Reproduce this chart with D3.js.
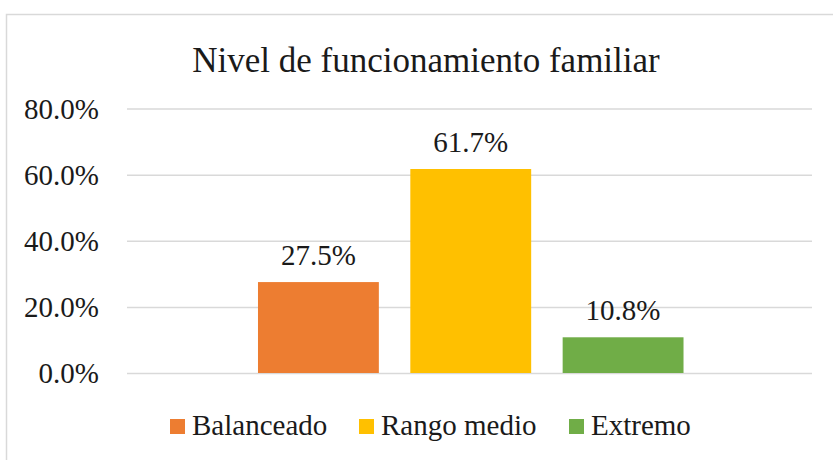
<!DOCTYPE html>
<html>
<head>
<meta charset="utf-8">
<script src="https://cdn.jsdelivr.net/npm/d3@7"></script>
<style>
  body { margin: 0; background: #fff; }
  text { font-family: 'Liberation Serif', 'Times New Roman', serif; fill: #1a1a1a; }
</style>
</head>
<body>
<div id="chart"></div>
<script>
const width = 833
const height = 460

const title = 'Nivel de funcionamiento familiar'
const series = ['Balanceado', 'Rango medio', 'Extremo']
const values = [0.275, 0.617, 0.108]
const colors = ['#ED7D31', '#FFC000', '#70AD47']
const yTicks = [0, 0.2, 0.4, 0.6, 0.8]

const plot = { left: 127, right: 812, top: 108.5, bottom: 373 }

const svg = d3
  .select('#chart')
  .append('svg')
  .attr('width', width)
  .attr('height', height)

// chart frame (runs off the right and bottom edges)
svg
  .append('rect')
  .attr('x', 6.5)
  .attr('y', 14.5)
  .attr('width', 900)
  .attr('height', 500)
  .attr('fill', 'none')
  .attr('stroke', '#D9D9D9')
  .attr('stroke-width', 1.5)

svg
  .append('text')
  .attr('x', 426)
  .attr('y', 72)
  .attr('text-anchor', 'middle')
  .attr('font-size', 35)
  .text(title)

const yScale = d3.scaleLinear().domain([0, 0.8]).range([plot.bottom, plot.top])

const xScale = d3
  .scaleBand()
  .domain(series)
  .range([plot.left + 1.5, plot.right + 1])
  .paddingInner(0.2066)
  .paddingOuter(0.85)

const yAxis = d3
  .axisLeft(yScale)
  .tickValues(yTicks)
  .tickFormat(d3.format('.1%'))
  .tickSize(-(plot.right - plot.left))
  .tickPadding(28)

svg
  .append('g')
  .attr('class', 'y-axis')
  .attr('transform', 'translate(' + plot.left + ',0)')
  .call(yAxis)
  .call(g => g.select('.domain').remove())
  .call(g => g.selectAll('.tick line').attr('stroke', '#D9D9D9').attr('stroke-width', 1.5))
  .call(g =>
    g
      .selectAll('.tick text')
      .attr('font-size', 29)
      .attr('font-family', "'Liberation Serif', 'Times New Roman', serif")
      .attr('fill', '#1a1a1a')
      .attr('dy', '0.34em')
  )

const data = series.map((s, i) => ({ name: s, value: values[i], color: colors[i] }))

svg
  .selectAll('.bar')
  .data(data)
  .enter()
  .append('rect')
  .attr('class', 'bar')
  .attr('x', d => xScale(d.name))
  .attr('y', d => yScale(d.value))
  .attr('width', xScale.bandwidth())
  .attr('height', d => yScale(0) - yScale(d.value))
  .attr('fill', d => d.color)

svg
  .selectAll('.bar-label')
  .data(data)
  .enter()
  .append('text')
  .attr('class', 'bar-label')
  .attr('x', d => xScale(d.name) + xScale.bandwidth() / 2)
  .attr('y', d => yScale(d.value) - 17.5)
  .attr('text-anchor', 'middle')
  .attr('font-size', 29)
  .text(d => d3.format('.1%')(d.value))

// legend
const legendX = [170, 359, 569]
const legend = svg
  .selectAll('.legend')
  .data(data)
  .enter()
  .append('g')
  .attr('class', 'legend')
  .attr('transform', (d, i) => 'translate(' + legendX[i] + ',419)')

legend
  .append('rect')
  .attr('width', 15)
  .attr('height', 15)
  .attr('fill', d => d.color)

legend
  .append('text')
  .attr('x', 22)
  .attr('y', 16)
  .attr('font-size', 29)
  .text(d => d.name)
</script>
</body>
</html>
